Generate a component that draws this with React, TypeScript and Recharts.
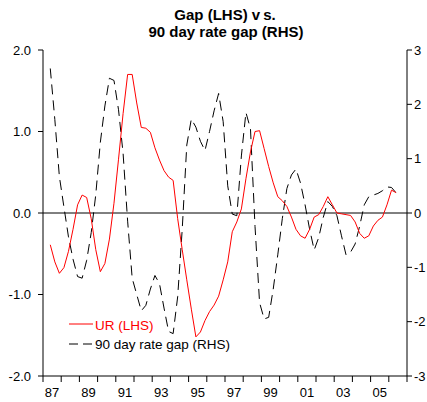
import React from 'react';
import { LineChart, Line, XAxis, YAxis, ReferenceLine } from 'recharts';

// quarterly observations, 1987Q2 .. 2006Q2
const quarters = [
  '1987Q2', '1987Q3', '1987Q4',
  '1988Q1', '1988Q2', '1988Q3', '1988Q4',
  '1989Q1', '1989Q2', '1989Q3', '1989Q4',
  '1990Q1', '1990Q2', '1990Q3', '1990Q4',
  '1991Q1', '1991Q2', '1991Q3', '1991Q4',
  '1992Q1', '1992Q2', '1992Q3', '1992Q4',
  '1993Q1', '1993Q2', '1993Q3', '1993Q4',
  '1994Q1', '1994Q2', '1994Q3', '1994Q4',
  '1995Q1', '1995Q2', '1995Q3', '1995Q4',
  '1996Q1', '1996Q2', '1996Q3', '1996Q4',
  '1997Q1', '1997Q2', '1997Q3', '1997Q4',
  '1998Q1', '1998Q2', '1998Q3', '1998Q4',
  '1999Q1', '1999Q2', '1999Q3', '1999Q4',
  '2000Q1', '2000Q2', '2000Q3', '2000Q4',
  '2001Q1', '2001Q2', '2001Q3', '2001Q4',
  '2002Q1', '2002Q2', '2002Q3', '2002Q4',
  '2003Q1', '2003Q2', '2003Q3', '2003Q4',
  '2004Q1', '2004Q2', '2004Q3', '2004Q4',
  '2005Q1', '2005Q2', '2005Q3', '2005Q4',
  '2006Q1', '2006Q2',
];

// UR gap, left axis
const urGap = [
  -0.39, -0.6, -0.74,
  -0.67, -0.47, -0.2, 0.1,
  0.22, 0.19, -0.07, -0.45,
  -0.72, -0.62, -0.32, 0.12,
  0.66, 1.22, 1.7, 1.7,
  1.35, 1.05, 1.04, 0.99,
  0.8, 0.65, 0.52, 0.44,
  0.4, -0.07, -0.45, -0.82,
  -1.18, -1.52, -1.46, -1.32,
  -1.21, -1.13, -1.02, -0.82,
  -0.6, -0.23, -0.11, 0.05,
  0.42, 0.75, 1.0, 1.01,
  0.79, 0.57, 0.37, 0.2,
  0.15, 0.08, -0.05, -0.2,
  -0.28, -0.31, -0.2, -0.05,
  -0.02, 0.08, 0.2, 0.1,
  0.0, -0.01, -0.02, -0.03,
  -0.11, -0.25, -0.31, -0.28,
  -0.16, -0.09, -0.05, 0.1,
  0.28, 0.25,
];

// 90 day rate gap, right axis
const rateGap = [
  2.66, 1.72, 0.67,
  0.11, -0.44, -0.85, -1.17,
  -1.2, -0.87, -0.36, 0.34,
  1.3, 1.97, 2.48, 2.44,
  1.9, 1.1, -0.15, -1.2,
  -1.5, -1.8, -1.7, -1.4,
  -1.15, -1.3, -1.75, -2.18,
  -2.22, -1.54, -0.3, 1.25,
  1.73, 1.58, 1.32, 1.15,
  1.5, 1.88, 2.2, 1.68,
  0.5, -0.02, -0.05, 1.05,
  1.85, 1.55, -0.25, -1.65,
  -1.95, -1.92, -1.4, -0.77,
  -0.1, 0.45, 0.7, 0.81,
  0.55, 0.15, -0.3, -0.68,
  -0.45, -0.08, 0.21, 0.12,
  -0.05, -0.42, -0.77, -0.72,
  -0.57, -0.24, 0.15, 0.3,
  0.33, 0.36, 0.41, 0.48,
  0.47, 0.37,
];

const yearTicks = [
  1987, 1988, 1989, 1990, 1991, 1992, 1993, 1994, 1995, 1996,
  1997, 1998, 1999, 2000, 2001, 2002, 2003, 2004, 2005, 2006, 2007,
];
const leftTicks = [-2, -1, 0, 1, 2];
const rightTicks = [-3, -2, -1, 0, 1, 2, 3];

const FONT = '"Liberation Sans", Arial, sans-serif';

const toTime = (q: string) => Number(q.slice(0, 4)) + (Number(q.slice(5)) - 1) * 0.25 + 0.15;

const data = quarters.map((q, i) => ({
  t: toTime(q),
  ur: urGap[i],
  rate: rateGap[i],
}));

const PLOT_LEFT = 43;
const PLOT_RIGHT = 407;
const HALF_YEAR_PX = (PLOT_RIGHT - PLOT_LEFT) / 20 / 2;

const YearTick = (props: any) => {
  const { x, y, payload } = props;
  const yr = payload.value as number;
  if (yr % 2 === 0 || yr > 2005) return <g />;
  return (
    <text x={x + HALF_YEAR_PX} y={y + 13} textAnchor="middle" fontSize={13} fill="#000" fontFamily={FONT}>
      {String(yr).slice(2)}
    </text>
  );
};

export default function App() {
  return (
    <div style={{ position: 'absolute', left: 0, top: 0, width: 427, height: 402, background: '#fff' }}>
      <LineChart width={427} height={402} data={data} margin={{ top: 50, right: 0, bottom: 0, left: 0 }}>
        <XAxis
          dataKey="t"
          type="number"
          domain={[1987, 2007]}
          ticks={yearTicks}
          interval={0}
          height={26}
          tickSize={6}
          tickMargin={2}
          axisLine={{ stroke: '#000' }}
          tickLine={{ stroke: '#000' }}
          tick={<YearTick />}
        />
        <YAxis
          yAxisId="left"
          domain={[-2, 2]}
          ticks={leftTicks}
          width={43}
          tickSize={5}
          tickMargin={7}
          axisLine={{ stroke: '#000' }}
          tickLine={{ stroke: '#000' }}
          tickFormatter={(v: number) => v.toFixed(1)}
          tick={{ fill: '#000', fontSize: 13, fontFamily: FONT }}
        />
        <YAxis
          yAxisId="right"
          orientation="right"
          domain={[-3, 3]}
          ticks={rightTicks}
          width={20}
          tickSize={5}
          tickMargin={2}
          axisLine={{ stroke: '#000' }}
          tickLine={{ stroke: '#000' }}
          tick={{ fill: '#000', fontSize: 13, fontFamily: FONT }}
        />
        <ReferenceLine yAxisId="left" y={0} stroke="#000" strokeWidth={1} />
        <Line
          yAxisId="right"
          type="linear"
          dataKey="rate"
          stroke="#000"
          strokeWidth={1}
          strokeDasharray="10 6"
          dot={false}
          isAnimationActive={false}
        />
        <Line
          yAxisId="left"
          type="linear"
          dataKey="ur"
          stroke="#ff0000"
          strokeWidth={1}
          dot={false}
          isAnimationActive={false}
        />
      </LineChart>
      <svg
        width={427}
        height={402}
        style={{ position: 'absolute', left: 0, top: 0, pointerEvents: 'none' }}
        fontFamily={FONT}
      >
        <text x={225} y={20} textAnchor="middle" fontSize={15} fontWeight="bold" fill="#000">
          Gap (LHS) v<tspan dx={3}>s.</tspan>
        </text>
        <text x={226} y={37} textAnchor="middle" fontSize={15} fontWeight="bold" fill="#000">
          90 day rate gap (RHS)
        </text>
        <line x1={69} x2={93} y1={324} y2={324} stroke="#ff0000" strokeWidth={1} />
        <text x={95} y={330} fontSize={13.5} fill="#ff0000">UR (LHS)</text>
        <line x1={69} x2={93} y1={344} y2={344} stroke="#000" strokeWidth={1} strokeDasharray="9 5" />
        <text x={95} y={349} fontSize={13.5} fill="#000">90 day rate gap (RHS)</text>
      </svg>
    </div>
  );
}
